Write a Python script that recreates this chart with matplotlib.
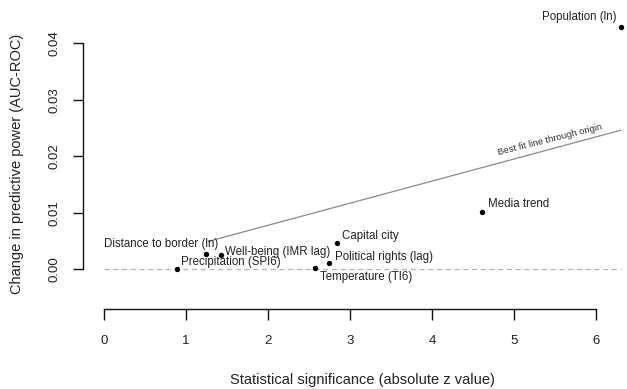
import numpy as np
import matplotlib
matplotlib.use("Agg")
import matplotlib.pyplot as plt

plt.rcParams['font.family'] = ['Liberation Sans', 'DejaVu Sans']

# ---- data ----
labels = ["Population (ln)", "Media trend", "Capital city", "Political rights (lag)",
          "Temperature (TI6)", "Precipitation (SPI6)", "Well-being (IMR lag)",
          "Distance to border (ln)"]
z_values = [6.30, 4.61, 2.84, 2.74, 2.57, 0.89, 1.43, 1.24]
auc_change = [0.0429, 0.0102, 0.0046, 0.0012, 0.0003, 0.0000, 0.0026, 0.0027]
x_ticks = [0, 1, 2, 3, 4, 5, 6]
y_ticks = [0.00, 0.01, 0.02, 0.03, 0.04]
y_tick_labels = ["0.00", "0.01", "0.02", "0.03", "0.04"]
fit_x_start = 1.27
fit_label = "Best fit line through origin"
x_title = "Statistical significance (absolute z value)"
y_title = "Change in predictive power (AUC-ROC)"

# label placement (offset in pixels, horizontal alignment)
label_style = {
    "Population (ln)": ((-4, 10), "right"),
    "Media trend": ((6, 8), "left"),
    "Capital city": ((5, 7), "left"),
    "Political rights (lag)": ((6, 5.5), "left"),
    "Temperature (TI6)": ((5, -9), "left"),
    "Precipitation (SPI6)": ((4, 7.5), "left"),
    "Well-being (IMR lag)": ((4, 3), "left"),
    "Distance to border (ln)": ((13, 10), "right"),
}

x = np.array(z_values)
y = np.array(auc_change)
slope = np.sum(x * y) / np.sum(x * x)

fig = plt.figure(figsize=(6.27, 3.89), dpi=100)
W, H = 627, 389
ax = fig.add_axes([83 / W, (H - 309) / H, 1 - 83 / W, 309 / H])
ax.set_xlim(-0.256, 6.378)
ax.set_ylim(-0.00698, 0.0476)

# zero reference line
ax.hlines(0, 0, x.max(), colors="#b4b4b4", linestyles=(0, (4, 3)), linewidth=0.9, zorder=1)

# best fit through origin
fx = np.array([fit_x_start, x.max()])
ax.plot(fx, slope * fx, color="#8a8a8a", linewidth=0.9, zorder=1)
mx = 5.44
ax.annotate(fit_label, xy=(mx, slope * mx), xytext=(0, 10), textcoords="offset pixels",
            rotation=14, rotation_mode="anchor", ha="center", va="center",
            fontsize=6.8, color="#333333")

ax.scatter(x, y, s=15, color="black", zorder=3, linewidths=0)

for lab, xi, yi in zip(labels, x, y):
    off, ha = label_style[lab]
    ax.annotate(lab, xy=(xi, yi), xytext=off, textcoords="offset pixels",
                ha=ha, va="center", fontsize=8.3, color="#222222")

for s in ["top", "right"]:
    ax.spines[s].set_visible(False)
ax.spines["left"].set_bounds(0, 0.04)
ax.spines["bottom"].set_bounds(0, 6)
for s in ["left", "bottom"]:
    ax.spines[s].set_linewidth(1.0)
    ax.spines[s].set_color("#111111")

ax.set_xticks(x_ticks)
ax.set_yticks(y_ticks)
ax.set_yticklabels(y_tick_labels, rotation=90, va="center")
ax.tick_params(axis="x", length=8, width=1.0, pad=11, labelsize=9.5, colors="#111111")
ax.tick_params(axis="y", length=7.5, width=1.0, pad=9, labelsize=9.5, colors="#111111")
for t in ax.get_xticklabels() + ax.get_yticklabels():
    t.set_color("#222222")

fig.text(362.5 / W, (H - 380) / H, x_title, ha="center", va="center", fontsize=10.5, color="#222222")
fig.text(17 / W, (H - 163.5) / H, y_title, ha="center", va="center", rotation=90,
         fontsize=10.5, color="#222222")

fig.savefig("out.png", dpi=100)
